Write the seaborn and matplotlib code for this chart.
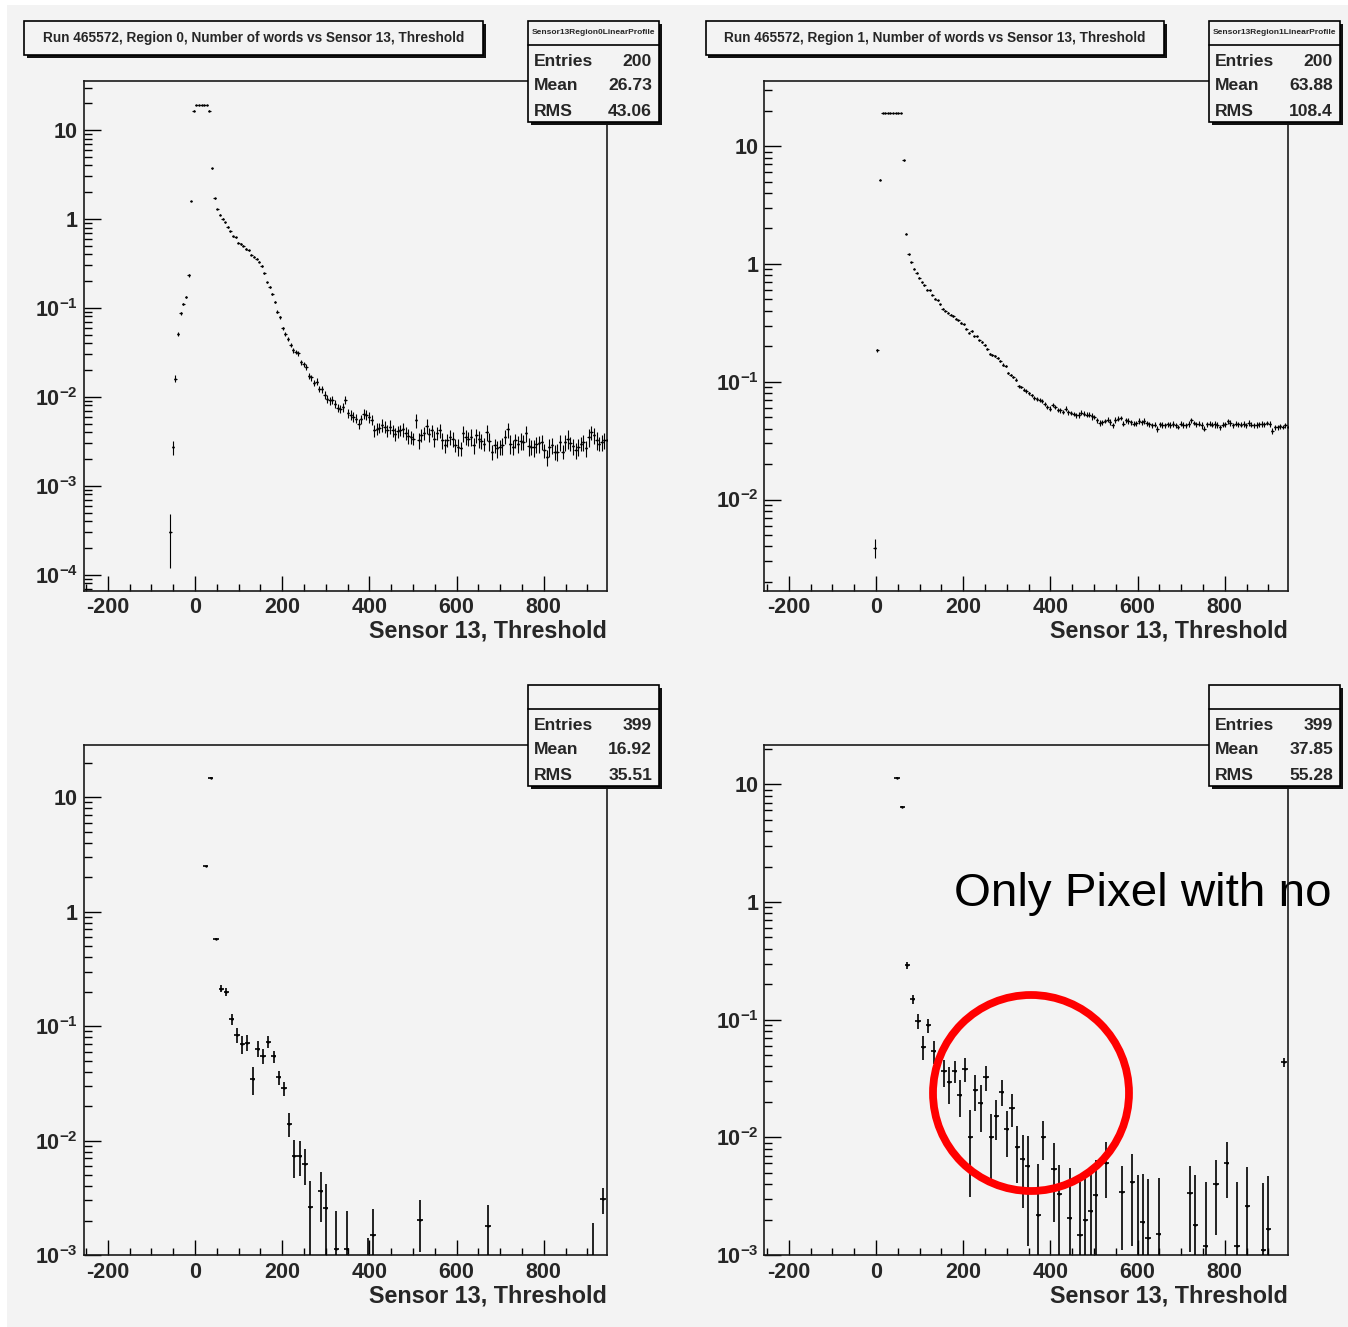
import numpy as np
import matplotlib
matplotlib.use("Agg")
import matplotlib.pyplot as plt
from matplotlib.patches import Rectangle, Ellipse
from matplotlib.ticker import (FixedLocator, FixedFormatter, LogLocator,
                               MultipleLocator, NullFormatter, FuncFormatter)
import pandas as pd
import seaborn as sns

# ---------------- data ----------------
# Region 0 profile: bins of width 6, first centre at -57
p1_x0, p1_bw = -57, 6
p1_y = [3.0e-4, 2.7e-3, 0.016, 0.051, 0.087, 0.111, 0.132, 0.232, 1.59, 16.5,
        19.1, 19.1, 19.1, 19.1, 19.1, 16.5, 3.7, 1.70, 1.29,
        1.12, 1.0, 0.914, 0.81, 0.725, 0.637, 0.62, 0.541, 0.523, 0.50,
        0.458, 0.443, 0.396, 0.376, 0.357, 0.33, 0.295, 0.244, 0.193, 0.17,
        0.143, 0.116, 0.091, 0.0788, 0.0593, 0.0512, 0.0446, 0.0382, 0.0333, 0.032,
        0.0308, 0.0244, 0.0233, 0.0218, 0.0173, 0.0165, 0.0144, 0.0148, 0.0123, 0.0121,
        0.0105, 0.0095, 0.0091, 0.0093, 0.0084, 0.0075, 0.0073, 0.0077, 0.0093, 0.0065,
        0.0063, 0.0060, 0.0057, 0.0050, 0.0056, 0.0064, 0.0063, 0.0059, 0.0055, 0.0042,
        0.0044, 0.0045, 0.0048, 0.0046, 0.0042, 0.0046, 0.0042, 0.0038, 0.0041, 0.0042,
        0.0043, 0.0039, 0.00365, 0.00355, 0.0034, 0.0055, 0.00326, 0.0037, 0.0039, 0.0047,
        0.0038, 0.0042, 0.0034, 0.0039, 0.0042, 0.00326, 0.00286, 0.00326, 0.00355, 0.0034,
        0.00286, 0.00275, 0.00263, 0.0039, 0.00355, 0.0034, 0.00355, 0.00286, 0.0037, 0.0034,
        0.0032, 0.00297, 0.0040, 0.0032, 0.00241, 0.00286, 0.00263, 0.00274, 0.00286, 0.00355,
        0.0043, 0.00297, 0.00274, 0.00326, 0.00297, 0.0032, 0.0031, 0.0039, 0.0028, 0.00274,
        0.0027, 0.00294, 0.0030, 0.0031, 0.00251, 0.00211, 0.00274, 0.00286, 0.00241, 0.00241,
        0.0031, 0.00241, 0.0031, 0.0034, 0.0030, 0.0028, 0.00251, 0.00274, 0.00297, 0.0031,
        0.00263, 0.00355, 0.0040, 0.0037, 0.00326, 0.00297, 0.0031, 0.00326, 0.00326]
p1_rel = [0.6, 0.185, 0.09, 0.05, 0.04, 0.035, 0.03, 0.03, 0.01, 0.005,
          0.005, 0.005, 0.005, 0.005, 0.005, 0.005, 0.01, 0.01, 0.01,
          0.015, 0.015, 0.015, 0.015, 0.015, 0.015, 0.015, 0.015, 0.015,
          0.015, 0.015, 0.015, 0.015, 0.015, 0.015, 0.015, 0.015, 0.015,
          0.02, 0.025, 0.03, 0.03, 0.035, 0.04, 0.04, 0.045, 0.05, 0.05,
          0.055, 0.06, 0.06, 0.065, 0.07, 0.07, 0.075, 0.08,
          0.08, 0.09, 0.085, 0.09, 0.1, 0.095, 0.1, 0.11, 0.1, 0.105,
          0.11, 0.12, 0.11, 0.115, 0.12, 0.125, 0.12, 0.13, 0.12, 0.13,
          0.14, 0.15, 0.13, 0.16, 0.15, 0.14, 0.17, 0.15, 0.16, 0.18,
          0.15, 0.17, 0.16, 0.14, 0.18, 0.17, 0.19, 0.16, 0.15, 0.18,
          0.2, 0.17, 0.16, 0.19, 0.18, 0.15, 0.2, 0.17, 0.19, 0.21,
          0.18, 0.16, 0.2, 0.19, 0.17, 0.22, 0.18, 0.2, 0.19, 0.17,
          0.21, 0.2, 0.18, 0.22, 0.19, 0.17, 0.2, 0.23, 0.19, 0.18,
          0.21, 0.2, 0.22, 0.18, 0.19, 0.24, 0.2, 0.18, 0.21, 0.22,
          0.19, 0.2, 0.23, 0.18, 0.21, 0.2, 0.22, 0.19, 0.18, 0.21,
          0.23, 0.2, 0.19, 0.22, 0.21, 0.18, 0.2, 0.24, 0.19, 0.21,
          0.2, 0.22, 0.18, 0.21, 0.2, 0.23, 0.19, 0.2, 0.22, 0.18,
          0.21, 0.2, 0.19]

# Region 1 profile: bins of width 6, first centre at -3
p2_x0, p2_bw = -3, 6
p2_y = [3.9e-3, 0.185, 5.2, 19.0, 19.0, 19.0, 19.0, 19.0, 19.0, 19.0, 19.0, 7.6, 1.81, 1.21,
        1.03, 0.91, 0.84, 0.766, 0.698, 0.659, 0.605, 0.597, 0.548, 0.507,
        0.491, 0.454, 0.415, 0.399, 0.385, 0.371, 0.361, 0.343, 0.332, 0.316,
        0.307, 0.282, 0.261, 0.27, 0.243, 0.243, 0.224, 0.217, 0.206, 0.19,
        0.171, 0.168, 0.166, 0.159, 0.149, 0.14, 0.135, 0.119, 0.114, 0.11,
        0.104, 0.0918, 0.0902, 0.0855, 0.0834, 0.0802, 0.0766, 0.0731, 0.0718, 0.0703,
        0.0685, 0.065, 0.061, 0.059, 0.063, 0.061, 0.0578, 0.057, 0.0552, 0.059,
        0.0552, 0.0542, 0.0535, 0.0518, 0.0525, 0.0546, 0.0535, 0.0527, 0.0525, 0.0507,
        0.0501, 0.0469, 0.0446, 0.0454, 0.0463, 0.0475, 0.0454, 0.0426, 0.0475, 0.0485,
        0.0494, 0.044, 0.0469, 0.0463, 0.0454, 0.044, 0.0446, 0.0463, 0.0454, 0.0463,
        0.0446, 0.0434, 0.0426, 0.0432, 0.0399, 0.0434, 0.0432, 0.0426, 0.0434, 0.0432,
        0.044, 0.0426, 0.0412, 0.044, 0.0432, 0.0426, 0.044, 0.0469, 0.0446, 0.0434,
        0.044, 0.0426, 0.0399, 0.0434, 0.044, 0.0432, 0.0434, 0.0432, 0.0412, 0.0432,
        0.0434, 0.0463, 0.0446, 0.0426, 0.044, 0.0434, 0.0432, 0.044, 0.0426, 0.0446,
        0.0432, 0.0426, 0.0432, 0.0434, 0.044, 0.0437, 0.0446, 0.044, 0.0385, 0.0412,
        0.0412, 0.0417, 0.0412, 0.0426, 0.0412]
p2_rel = [0.18, 0.03, 0.01, 0.004, 0.004, 0.004, 0.004, 0.004, 0.004, 0.004, 0.004,
          0.01, 0.01, 0.01,
          0.01, 0.01, 0.01, 0.01, 0.01, 0.01, 0.01, 0.01, 0.01, 0.01,
          0.01, 0.01, 0.01, 0.01, 0.01,
          0.015, 0.015, 0.015, 0.015, 0.015, 0.015, 0.015, 0.015, 0.015, 0.015,
          0.015, 0.015, 0.015, 0.015, 0.015,
          0.02, 0.02, 0.02, 0.02, 0.02, 0.02, 0.02, 0.02, 0.02, 0.02,
          0.025, 0.03, 0.025, 0.03, 0.035, 0.03, 0.03, 0.035, 0.04, 0.035,
          0.04, 0.035, 0.04, 0.045, 0.04, 0.04, 0.045, 0.05, 0.04, 0.045,
          0.05, 0.045, 0.04, 0.05, 0.055, 0.045, 0.05, 0.045, 0.05, 0.06,
          0.045, 0.05, 0.055, 0.05, 0.045, 0.05, 0.06, 0.05, 0.055, 0.05,
          0.045, 0.05, 0.055, 0.06, 0.05, 0.045, 0.05, 0.055, 0.05, 0.06,
          0.05, 0.045, 0.055, 0.05, 0.06, 0.05, 0.055, 0.045, 0.05, 0.055,
          0.06, 0.05, 0.045, 0.05, 0.055, 0.05, 0.06, 0.05, 0.045, 0.055,
          0.05, 0.06, 0.05, 0.055, 0.045, 0.05, 0.06, 0.055, 0.05, 0.045,
          0.055, 0.05, 0.06, 0.05, 0.045, 0.055, 0.05, 0.06, 0.05, 0.055,
          0.05, 0.045, 0.06, 0.05, 0.055, 0.05, 0.045, 0.055, 0.06, 0.05,
          0.05, 0.055, 0.045, 0.05, 0.06]

# Bottom-left: bins of width 12
p3_bw = 12
p3_x = [24, 36, 48, 60, 72, 84, 96, 108, 120, 132, 144, 156, 168, 180, 192, 204,
        216, 228, 240, 252, 264, 288, 300, 324, 348, 396, 408, 516, 672, 912, 936]
p3_y = [2.49, 14.8, 0.579, 0.212, 0.200, 0.115, 0.0843, 0.0695, 0.0719, 0.0345,
        0.0637, 0.055, 0.0728, 0.0543, 0.0356, 0.0286, 0.014, 0.0074, 0.0074,
        0.00625, 0.00262, 0.00366, 0.00257, 0.00112, 0.00112, 0.0005, 0.0015,
        0.00203, 0.00181, 0.0007, 0.00306]
p3_err = [0.02, 0.1, 0.008, 0.015, 0.015, 0.0133, 0.0126, 0.0125, 0.011, 0.0095,
          0.0103, 0.0081, 0.0087, 0.0065, 0.0053, 0.004, 0.0033, 0.0027, 0.0025,
          0.0022, 0.00185, 0.0017, 0.0016, 0.0013, 0.0013, 0.0009, 0.001,
          0.00097, 0.0009, 0.0012, 0.0008]

# Bottom-right: bins of width 12
p4_bw = 12
p4_x = [48, 60, 72, 84, 96, 108, 120, 132, 156, 168, 180, 192, 204, 216, 228, 240,
        252, 264, 276, 288, 300, 312, 324, 336, 348, 372, 384, 408, 420, 444, 468,
        480, 492, 504, 528, 564, 588, 600, 612, 624, 648, 720, 732, 756, 780, 804,
        828, 852, 888, 900, 936]
p4_y = [11.4, 6.46, 0.29, 0.149, 0.098, 0.059, 0.0893, 0.0537, 0.0363, 0.0293,
        0.0368, 0.023, 0.0383, 0.0101, 0.0251, 0.0196, 0.0325, 0.0101, 0.0151,
        0.0245, 0.0117, 0.0177, 0.0083, 0.0065, 0.0057, 0.0022, 0.0101, 0.0054,
        0.0033, 0.00206, 0.00149, 0.002, 0.00235, 0.00326, 0.00605, 0.0034, 0.0042,
        0.0008, 0.00191, 0.0014, 0.00151, 0.00337, 0.00181, 0.00119, 0.00398,
        0.00605, 0.00119, 0.0026, 0.0011, 0.00166, 0.0434]
p4_err = [0.1, 0.05, 0.02, 0.0135, 0.0147, 0.0135, 0.0115, 0.012,
          0.0095, 0.01, 0.008, 0.008, 0.0085, 0.007, 0.0085, 0.0085, 0.0075,
          0.0057, 0.0057, 0.006, 0.0049, 0.0055, 0.0042, 0.004, 0.0045,
          0.0037, 0.0037, 0.0035, 0.0025, 0.0034, 0.0027, 0.0028, 0.0029, 0.0032,
          0.003, 0.0023, 0.003, 0.004, 0.003, 0.003, 0.003,
          0.0023, 0.003, 0.003, 0.0025, 0.003, 0.003, 0.003,
          0.003, 0.003, 0.0035]

titles = ["Run 465572, Region 0, Number of words vs Sensor 13, Threshold",
          "Run 465572, Region 1, Number of words vs Sensor 13, Threshold"]
stat_names = ["Sensor13Region0LinearProfile", "Sensor13Region1LinearProfile", "", ""]
stat_entries = ["200", "200", "399", "399"]
stat_mean = ["26.73", "63.88", "16.92", "37.85"]
stat_rms = ["43.06", "108.4", "35.51", "55.28"]
x_ticks = [-200, 0, 200, 400, 600, 800]
x_ticklabels = ["-200", "0", "200", "400", "600", "800"]
x_label = "Sensor 13, Threshold"
note_text = "Only Pixel with no"

# ---------------- style ----------------
W, H = 1348, 1327
BG = "#f3f3f3"
sns.set_style("ticks")
plt.rcParams["font.family"] = ["Liberation Sans", "DejaVu Sans"]
plt.rcParams["mathtext.fontset"] = "custom"
plt.rcParams["mathtext.rm"] = "Liberation Sans"
plt.rcParams["mathtext.bf"] = "Liberation Sans:bold"
plt.rcParams["mathtext.it"] = "Liberation Sans:italic"

fig = plt.figure(figsize=(W / 100, H / 100), dpi=100)
fig.patch.set_facecolor(BG)


def fx(x):
    return x / W


def fy(y):
    return 1 - y / H


# white outer margin
fig.add_artist(Rectangle((0, fy(5)), 1, 5 / H, transform=fig.transFigure,
                         facecolor="white", edgecolor="none", zorder=-5))
fig.add_artist(Rectangle((0, 0), 6.5 / W, 1, transform=fig.transFigure,
                         facecolor="white", edgecolor="none", zorder=-5))


def ylab(v, pos):
    e = int(round(np.log10(v)))
    if e == 0:
        return "1"
    if e == 1:
        return "10"
    return r"$\mathbf{10^{%d}}$" % e


def box(x0, y0, x1, y1, z=6, sh=3):
    fig.add_artist(Rectangle((fx(x0 + sh), fy(y1 + sh)), (x1 - x0) / W, (y1 - y0) / H,
                             transform=fig.transFigure, facecolor="#111111",
                             edgecolor="none", zorder=z))
    fig.add_artist(Rectangle((fx(x0), fy(y1)), (x1 - x0) / W, (y1 - y0) / H,
                             transform=fig.transFigure, facecolor=BG,
                             edgecolor="black", linewidth=1.2, zorder=z + 0.1))


def panel(rect, x, y, err, half, lw, ylim):
    l, t, r, b = rect
    ax = fig.add_axes([fx(l), fy(b), (r - l) / W, (b - t) / H])
    ax.set_facecolor(BG)
    ax.set_yscale("log")
    x = np.asarray(x, float)
    y = np.asarray(y, float)
    err = np.asarray(err, float)
    lower = np.minimum(err, y * 0.9999)
    ax.errorbar(x, y, yerr=[lower, err], xerr=half, fmt="none", ecolor="black",
                elinewidth=lw, capsize=0, zorder=3)
    df = pd.DataFrame({"x": x, "y": y})
    sns.scatterplot(data=df, x="x", y="y", ax=ax, s=3, color="black",
                    linewidth=0, legend=False, zorder=4)
    ax.set_xlim(-256, 945)
    ax.set_ylim(*ylim)
    ax.xaxis.set_major_locator(FixedLocator(x_ticks))
    ax.xaxis.set_major_formatter(FixedFormatter(x_ticklabels))
    ax.xaxis.set_minor_locator(MultipleLocator(50))
    ax.yaxis.set_major_locator(LogLocator(base=10, numticks=20))
    ax.yaxis.set_minor_locator(LogLocator(base=10, subs=np.arange(2, 10), numticks=20))
    ax.yaxis.set_major_formatter(FuncFormatter(ylab))
    ax.yaxis.set_minor_formatter(NullFormatter())
    ax.tick_params(which="both", direction="in", top=False, right=False,
                   color="black", width=1.0)
    ax.tick_params(axis="x", which="major", length=10.8, pad=5, labelsize=15.5)
    ax.tick_params(axis="x", which="minor", length=5.4)
    ax.tick_params(axis="y", which="major", length=12, pad=4, labelsize=15.5)
    ax.tick_params(axis="y", which="minor", length=6)
    for lab in ax.get_xticklabels() + ax.get_yticklabels():
        lab.set_fontweight("bold")
    for s in ax.spines.values():
        s.set_visible(True)
        s.set_linewidth(1.2)
        s.set_color("#1a1a1a")
    ax.set_xlabel(x_label, fontsize=16.8, fontweight="bold")
    ax.xaxis.set_label_coords(1.0, -(40.5 / (b - t)))
    ax.xaxis.label.set_ha("right")
    ax.xaxis.label.set_va("center")
    ax.set_ylabel("")
    return ax


# ---------------- panels ----------------
p1_x = [p1_x0 + p1_bw * i for i in range(len(p1_y))]
p1_err = [v * r for v, r in zip(p1_y, p1_rel)]
p2_x = [p2_x0 + p2_bw * i for i in range(len(p2_y))]
p2_err = [v * r for v, r in zip(p2_y, p2_rel)]

rects = [(83.5, 81, 607, 590.5), (764.5, 81, 1288, 590.5),
         (83.5, 745, 607, 1255), (764.5, 745, 1288, 1255)]

ax1 = panel(rects[0], p1_x, p1_y, p1_err, p1_bw / 2, 0.8, (6.65e-5, 35.5))
ax2 = panel(rects[1], p2_x, p2_y, p2_err, p2_bw / 2, 0.8, (1.69e-3, 35.7))
ax3 = panel(rects[2], p3_x, p3_y, p3_err, p3_bw / 2, 1.2, (1.0e-3, 28.6))
ax4 = panel(rects[3], p4_x, p4_y, p4_err, p4_bw / 2, 1.2, (1.0e-3, 21.6))

# ---------------- title boxes ----------------
for i, (x0, x1) in enumerate([(24, 483), (706, 1164)]):
    box(x0, 21, x1, 55, z=6, sh=2.5)
    fig.text(fx((x0 + x1) / 2), fy(38), titles[i], ha="center", va="center",
             fontsize=9.8, fontweight="bold", zorder=8)

# ---------------- stats boxes ----------------
for i in range(4):
    dx = 0 if i % 2 == 0 else 681
    dy = 0 if i < 2 else 664
    x0, x1 = 528 + dx, 659 + dx
    y0, y1 = 21 + dy, 122 + dy
    box(x0, y0, x1, y1, z=6, sh=3)
    fig.add_artist(plt.Line2D([fx(x0), fx(x1)], [fy(45 + dy), fy(45 + dy)],
                              transform=fig.transFigure, color="black",
                              linewidth=1.2, zorder=7))
    if stat_names[i]:
        fig.text(fx((x0 + x1) / 2), fy(33 + dy), stat_names[i], ha="center",
                 va="center", fontsize=6.0, fontweight="bold", zorder=8)
    for j, (nm, val) in enumerate([("Entries", stat_entries[i]),
                                   ("Mean", stat_mean[i]),
                                   ("RMS", stat_rms[i])]):
        yy = 61 + 25 * j + dy
        fig.text(fx(x0 + 6), fy(yy), nm, ha="left", va="center", fontsize=12.6,
                 fontweight="bold", zorder=8)
        fig.text(fx(x1 - 7), fy(yy), val, ha="right", va="center", fontsize=12.6,
                 fontweight="bold", zorder=8)

# ---------------- annotation ----------------
ax4.text(fx(954), fy(906), note_text, transform=fig.transFigure, ha="left",
         va="baseline", fontsize=34.2, color="black", zorder=2, clip_on=False)
fig.add_artist(Ellipse((fx(1031), fy(1093)), 196 / W, 196 / H,
                       transform=fig.transFigure, fill=False, edgecolor="#ff0000",
                       linewidth=5.6, zorder=9))

fig.savefig("out.png", dpi=100, facecolor=fig.get_facecolor())
